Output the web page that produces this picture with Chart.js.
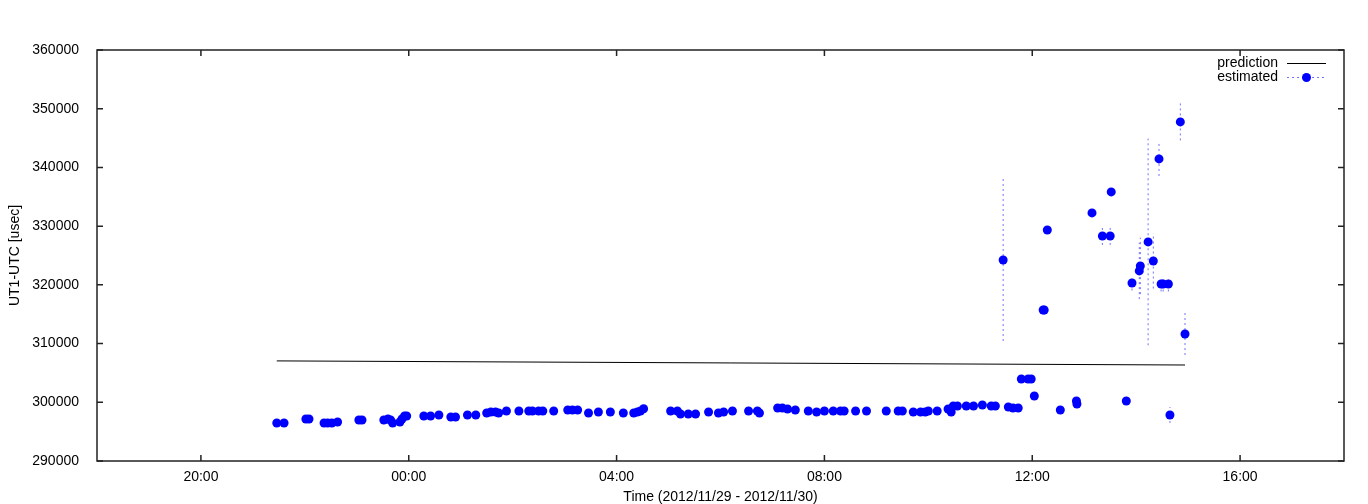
<!DOCTYPE html>
<html lang="en">
<head>
<meta charset="UTF-8">
<title>UT1-UTC estimate</title>
<script src="https://cdn.jsdelivr.net/npm/chart.js"></script>
<style>
body { margin: 0; background: #fff; }
#wrap { width: 1368px; height: 504px; }
</style>
</head>
<body>
<div id="wrap"><canvas id="ut1_chart"></canvas></div>
<script>
// times are hours counted from 2012/11/29 00:00 (24 = 00:00 on 11/30)
const estTimes = [
    21.46, 21.60, 22.02, 22.08, 22.37, 22.44, 22.52, 22.63, 23.04, 23.10,
    23.52, 23.60, 23.65, 23.69, 23.83, 23.87, 23.92, 23.96, 24.29, 24.42,
    24.58, 24.81, 24.90, 25.13, 25.29, 25.50, 25.58, 25.67, 25.73, 25.88,
    26.12, 26.31, 26.38, 26.50, 26.58, 26.79, 27.06, 27.15, 27.25, 27.46,
    27.65, 27.88, 28.13, 28.33, 28.40, 28.46, 28.52, 29.04, 29.17, 29.23,
    29.38, 29.52, 29.77, 29.96, 30.06, 30.23, 30.54, 30.71, 30.75, 31.10,
    31.19, 31.29, 31.44, 31.69, 31.85, 32.00, 32.17, 32.31, 32.38, 32.60,
    32.81, 33.19, 33.42, 33.50, 33.71, 33.85, 33.94, 34.00, 34.17, 34.38,
    34.42, 34.44, 34.48, 34.56, 34.73, 34.87, 35.04, 35.21, 35.29, 35.44,
    35.54, 35.63, 35.73, 35.79, 35.92, 35.98, 36.04, 36.21, 36.23, 36.29,
    36.54, 36.85, 36.86, 37.15, 37.35, 37.50, 37.52, 37.81, 37.92, 38.06,
    38.08, 38.23, 38.33, 38.44, 38.48, 38.52, 38.62, 38.65, 38.85, 38.94
];
const estValues = [
    296470, 296470, 297150, 297150, 296470, 296470, 296470, 296640, 296980, 296980,
    296980, 297150, 296980, 296470, 296640, 297150, 297670, 297670, 297670, 297670,
    297840, 297500, 297500, 297840, 297840, 298180, 298350, 298350, 298180, 298520,
    298520, 298520, 298520, 298520, 298520, 298520, 298690, 298690, 298690, 298180,
    298350, 298350, 298180, 298180, 298350, 298520, 298900, 298520, 298520, 298000,
    298010, 298010, 298350, 298180, 298350, 298520, 298520, 298520, 298180, 299030,
    299030, 298860, 298690, 298520, 298350, 298520, 298520, 298520, 298520, 298520,
    298520, 298520, 298520, 298520, 298350, 298350, 298350, 298520, 298520, 298860,
    298690, 298350, 299370, 299370, 299370, 299370, 299540, 299370, 299370, 324240,
    299200, 299030, 299030, 303970, 303970, 303970, 301070, 315720, 315720, 329350,
    298690, 300220, 299710, 332250, 328330, 328330, 335830, 300220, 320320, 322370,
    323220, 327310, 324070, 341450, 320150, 320150, 320150, 297840, 347750, 311630
];
// error half-widths, 0 where the bar hides under the point
const estErrors = [
    0, 0, 0, 0, 0, 0, 0, 0, 0, 0,
    0, 0, 0, 0, 0, 0, 0, 0, 0, 0,
    0, 0, 0, 0, 0, 0, 0, 0, 0, 0,
    0, 0, 0, 0, 0, 0, 0, 0, 0, 0,
    0, 0, 0, 0, 0, 0, 0, 0, 0, 0,
    0, 0, 0, 0, 0, 0, 0, 0, 0, 0,
    0, 0, 0, 0, 0, 0, 0, 0, 0, 0,
    0, 0, 0, 0, 0, 0, 0, 0, 0, 0,
    0, 0, 0, 0, 0, 0, 0, 0, 0, 13800,
    0, 0, 0, 0, 0, 0, 0, 0, 0, 0,
    0, 0, 0, 0, 1530, 1530, 0, 0, 1280, 4800,
    4800, 17600, 4700, 2900, 1280, 1280, 1280, 1360, 3150, 3580
];
const predTimes = [21.46, 38.94];
const predValues = [307050, 306350];

const xTickHours = [20, 24, 28, 32, 36, 40];
const xTickLabels = ['20:00', '00:00', '04:00', '08:00', '12:00', '16:00'];
const yTicks = [290000, 300000, 310000, 320000, 330000, 340000, 350000, 360000];

const blue = '#0000ff';
const errColor = 'rgba(20, 20, 255, 0.6)';

const estPoints = estTimes.map((t, i) => ({ x: t, y: estValues[i] }));
const predPoints = predTimes.map((t, i) => ({ x: t, y: predValues[i] }));
const errSegments = [];
estTimes.forEach((t, i) => {
    if (estErrors[i] > 0) {
        errSegments.push({ x: t, y: estValues[i] - estErrors[i] });
        errSegments.push({ x: t, y: estValues[i] + estErrors[i] });
        errSegments.push({ x: t, y: null }); // break between bars
    }
});

Chart.defaults.font.family = '"Liberation Sans", Arial, sans-serif';
Chart.defaults.font.size = 14;
Chart.defaults.color = '#000';

// gnuplot look: frame, inward ticks on all four sides, key in the top right
const framePlugin = {
    id: 'frame',
    afterDraw(chart) {
        const ctx = chart.ctx;
        const a = chart.chartArea;
        const xs = chart.scales.x, ys = chart.scales.y;
        const tl = 6;
        ctx.save();
        ctx.strokeStyle = '#222';
        ctx.lineWidth = 1.5;
        ctx.strokeRect(a.left, a.top, a.right - a.left, a.bottom - a.top);
        ctx.beginPath();
        yTicks.forEach(v => {
            const y = ys.getPixelForValue(v);
            ctx.moveTo(a.left, y); ctx.lineTo(a.left + tl, y);
            ctx.moveTo(a.right, y); ctx.lineTo(a.right - tl, y);
        });
        xTickHours.forEach(v => {
            const x = xs.getPixelForValue(v);
            ctx.moveTo(x, a.bottom); ctx.lineTo(x, a.bottom - tl);
            ctx.moveTo(x, a.top); ctx.lineTo(x, a.top + tl);
        });
        ctx.stroke();

        // key
        const textRight = a.right - 66;
        const sx0 = a.right - 57, sx1 = a.right - 18;
        const rows = [a.top + 13.5, a.top + 27.5];
        ctx.font = '14px "Liberation Sans", Arial, sans-serif';
        ctx.fillStyle = '#000';
        ctx.textAlign = 'right';
        ctx.textBaseline = 'middle';
        ctx.fillText(chart.data.datasets[2].label, textRight, rows[0]);
        ctx.fillText(chart.data.datasets[0].label, textRight, rows[1]);
        ctx.strokeStyle = '#000';
        ctx.lineWidth = 1;
        ctx.beginPath();
        ctx.moveTo(sx0, rows[0]); ctx.lineTo(sx1, rows[0]);
        ctx.stroke();
        ctx.strokeStyle = errColor;
        ctx.setLineDash([2, 3]);
        ctx.beginPath();
        ctx.moveTo(sx0, rows[1]); ctx.lineTo(sx1, rows[1]);
        ctx.stroke();
        ctx.setLineDash([]);
        ctx.fillStyle = blue;
        ctx.beginPath();
        ctx.arc((sx0 + sx1) / 2, rows[1], 4.5, 0, Math.PI * 2);
        ctx.fill();
        ctx.restore();
    }
};

const ctx = document.getElementById('ut1_chart').getContext('2d');
new Chart(ctx, {
    type: 'scatter',
    data: {
        datasets: [{
            label: 'estimated',
            data: estPoints,
            backgroundColor: blue,
            borderColor: blue,
            pointRadius: 4.5,
            pointBorderWidth: 0,
            showLine: false
        }, {
            label: 'estimated error',
            data: errSegments,
            borderColor: errColor,
            borderWidth: 1,
            borderDash: [2, 3],
            pointRadius: 0,
            showLine: true,
            spanGaps: false
        }, {
            label: 'prediction',
            data: predPoints,
            borderColor: '#000',
            borderWidth: 1,
            pointRadius: 0,
            showLine: true
        }]
    },
    options: {
        responsive: true,
        maintainAspectRatio: false,
        animation: false,
        layout: { padding: { left: 0, right: 24, top: 50, bottom: 0 } },
        plugins: {
            legend: { display: false },
            tooltip: { enabled: false }
        },
        scales: {
            x: {
                type: 'linear',
                min: 18,
                max: 42,
                afterBuildTicks: scale => { scale.ticks = xTickHours.map(v => ({ value: v })); },
                afterFit: scale => { scale.height = 43; },
                grid: { display: false },
                border: { display: false },
                ticks: {
                    padding: 0,
                    maxRotation: 0,
                    callback: (v, i) => xTickLabels[i]
                },
                title: {
                    display: true,
                    text: 'Time (2012/11/29 - 2012/11/30)',
                    padding: { top: 0, bottom: -2 }
                }
            },
            y: {
                type: 'linear',
                min: 290000,
                max: 360000,
                afterBuildTicks: scale => { scale.ticks = yTicks.map(v => ({ value: v })); },
                afterFit: scale => { scale.width = 97; },
                grid: { display: false },
                border: { display: false },
                ticks: {
                    padding: 10,
                    callback: v => String(v)
                },
                title: {
                    display: true,
                    text: 'UT1-UTC [usec]',
                    padding: { top: 7, bottom: 0 }
                }
            }
        }
    },
    plugins: [framePlugin]
});
</script>
</body>
</html>
